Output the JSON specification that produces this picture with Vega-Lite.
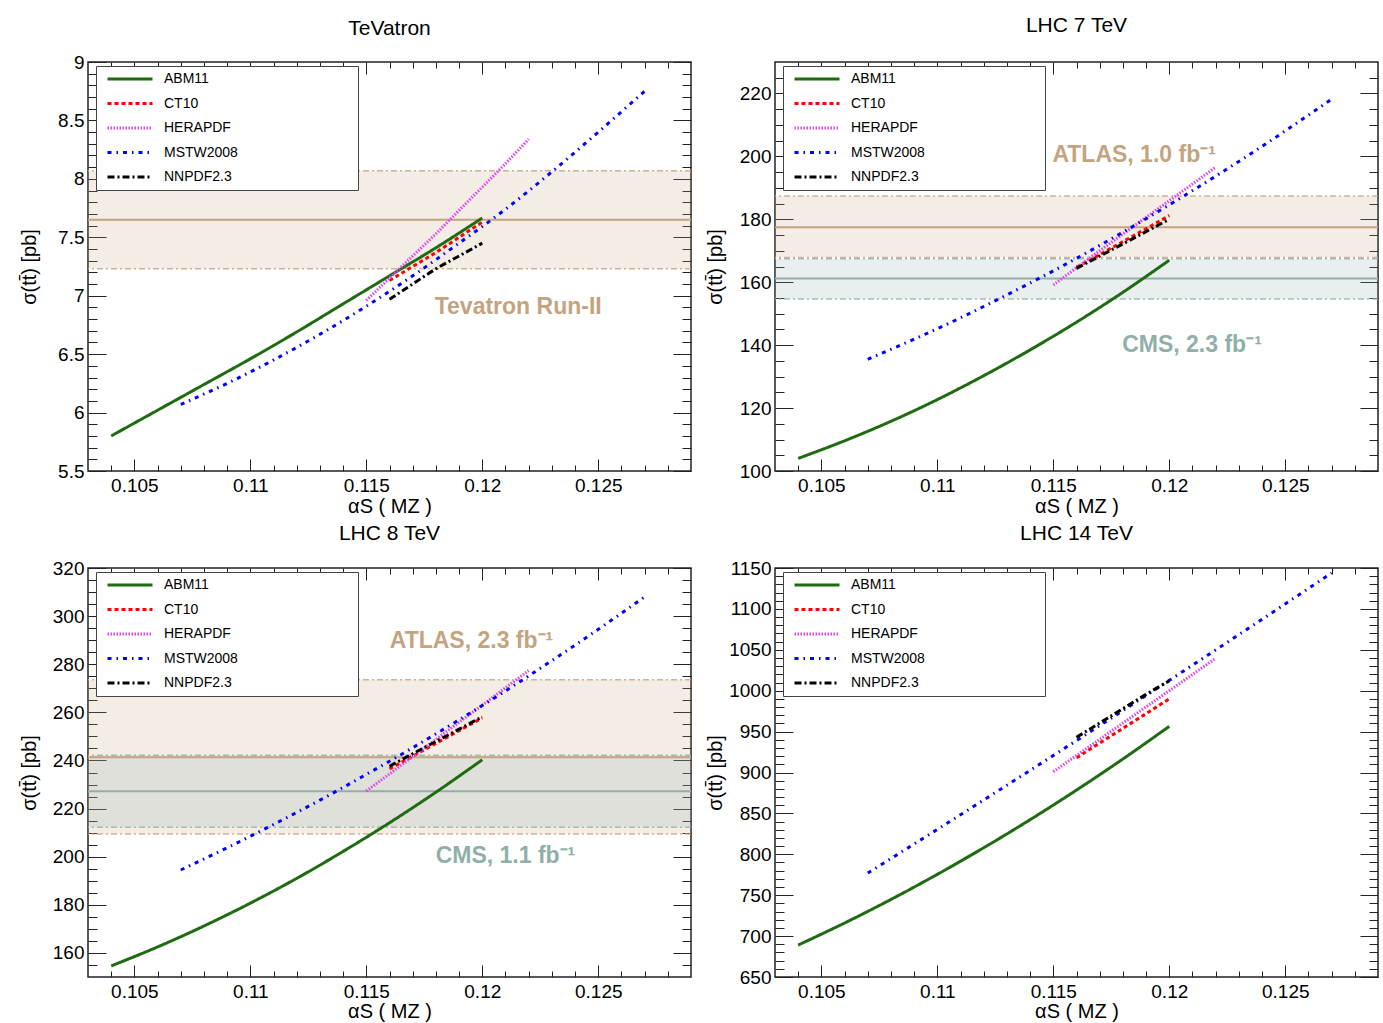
{
  "$schema": "https://vega.github.io/schema/vega-lite/v6.json",
  "background": "white",
  "padding": {"left": 18, "top": 14, "right": 0, "bottom": 0},
  "columns": 2,
  "spacing": {"row": 5, "column": 11},
  "datasets": {
    "lines": [
      {"panel":"tev","pdf":"ABM11","alphas":0.104,"sigma":5.80},{"panel":"tev","pdf":"ABM11","alphas":0.106,"sigma":6.02},{"panel":"tev","pdf":"ABM11","alphas":0.108,"sigma":6.24},{"panel":"tev","pdf":"ABM11","alphas":0.110,"sigma":6.46},{"panel":"tev","pdf":"ABM11","alphas":0.112,"sigma":6.69},{"panel":"tev","pdf":"ABM11","alphas":0.114,"sigma":6.93},{"panel":"tev","pdf":"ABM11","alphas":0.116,"sigma":7.17},{"panel":"tev","pdf":"ABM11","alphas":0.118,"sigma":7.41},{"panel":"tev","pdf":"ABM11","alphas":0.120,"sigma":7.665},
      {"panel":"tev","pdf":"CT10","alphas":0.116,"sigma":7.13},{"panel":"tev","pdf":"CT10","alphas":0.117,"sigma":7.25},{"panel":"tev","pdf":"CT10","alphas":0.118,"sigma":7.37},{"panel":"tev","pdf":"CT10","alphas":0.119,"sigma":7.50},{"panel":"tev","pdf":"CT10","alphas":0.120,"sigma":7.63},
      {"panel":"tev","pdf":"HERAPDF","alphas":0.115,"sigma":6.96},{"panel":"tev","pdf":"HERAPDF","alphas":0.116,"sigma":7.15},{"panel":"tev","pdf":"HERAPDF","alphas":0.117,"sigma":7.34},{"panel":"tev","pdf":"HERAPDF","alphas":0.118,"sigma":7.53},{"panel":"tev","pdf":"HERAPDF","alphas":0.119,"sigma":7.73},{"panel":"tev","pdf":"HERAPDF","alphas":0.120,"sigma":7.93},{"panel":"tev","pdf":"HERAPDF","alphas":0.121,"sigma":8.13},{"panel":"tev","pdf":"HERAPDF","alphas":0.122,"sigma":8.34},
      {"panel":"tev","pdf":"MSTW2008","alphas":0.107,"sigma":6.07},{"panel":"tev","pdf":"MSTW2008","alphas":0.109,"sigma":6.25},{"panel":"tev","pdf":"MSTW2008","alphas":0.111,"sigma":6.45},{"panel":"tev","pdf":"MSTW2008","alphas":0.113,"sigma":6.67},{"panel":"tev","pdf":"MSTW2008","alphas":0.115,"sigma":6.91},{"panel":"tev","pdf":"MSTW2008","alphas":0.117,"sigma":7.17},{"panel":"tev","pdf":"MSTW2008","alphas":0.119,"sigma":7.45},{"panel":"tev","pdf":"MSTW2008","alphas":0.121,"sigma":7.74},{"panel":"tev","pdf":"MSTW2008","alphas":0.123,"sigma":8.06},{"panel":"tev","pdf":"MSTW2008","alphas":0.125,"sigma":8.40},{"panel":"tev","pdf":"MSTW2008","alphas":0.127,"sigma":8.75},
      {"panel":"tev","pdf":"NNPDF2.3","alphas":0.116,"sigma":6.97},{"panel":"tev","pdf":"NNPDF2.3","alphas":0.117,"sigma":7.10},{"panel":"tev","pdf":"NNPDF2.3","alphas":0.118,"sigma":7.23},{"panel":"tev","pdf":"NNPDF2.3","alphas":0.119,"sigma":7.34},{"panel":"tev","pdf":"NNPDF2.3","alphas":0.120,"sigma":7.45},

      {"panel":"lhc7","pdf":"ABM11","alphas":0.104,"sigma":104.0},{"panel":"lhc7","pdf":"ABM11","alphas":0.106,"sigma":109.6},{"panel":"lhc7","pdf":"ABM11","alphas":0.108,"sigma":115.8},{"panel":"lhc7","pdf":"ABM11","alphas":0.110,"sigma":122.7},{"panel":"lhc7","pdf":"ABM11","alphas":0.112,"sigma":130.3},{"panel":"lhc7","pdf":"ABM11","alphas":0.114,"sigma":138.5},{"panel":"lhc7","pdf":"ABM11","alphas":0.116,"sigma":147.3},{"panel":"lhc7","pdf":"ABM11","alphas":0.118,"sigma":156.8},{"panel":"lhc7","pdf":"ABM11","alphas":0.120,"sigma":167.0},
      {"panel":"lhc7","pdf":"CT10","alphas":0.116,"sigma":164.8},{"panel":"lhc7","pdf":"CT10","alphas":0.117,"sigma":168.8},{"panel":"lhc7","pdf":"CT10","alphas":0.118,"sigma":172.9},{"panel":"lhc7","pdf":"CT10","alphas":0.119,"sigma":177.0},{"panel":"lhc7","pdf":"CT10","alphas":0.120,"sigma":181.2},
      {"panel":"lhc7","pdf":"HERAPDF","alphas":0.115,"sigma":159.1},{"panel":"lhc7","pdf":"HERAPDF","alphas":0.116,"sigma":164.6},{"panel":"lhc7","pdf":"HERAPDF","alphas":0.117,"sigma":170.0},{"panel":"lhc7","pdf":"HERAPDF","alphas":0.118,"sigma":175.3},{"panel":"lhc7","pdf":"HERAPDF","alphas":0.119,"sigma":180.6},{"panel":"lhc7","pdf":"HERAPDF","alphas":0.120,"sigma":185.9},{"panel":"lhc7","pdf":"HERAPDF","alphas":0.121,"sigma":191.2},{"panel":"lhc7","pdf":"HERAPDF","alphas":0.122,"sigma":196.6},
      {"panel":"lhc7","pdf":"MSTW2008","alphas":0.107,"sigma":135.5},{"panel":"lhc7","pdf":"MSTW2008","alphas":0.109,"sigma":141.9},{"panel":"lhc7","pdf":"MSTW2008","alphas":0.111,"sigma":148.7},{"panel":"lhc7","pdf":"MSTW2008","alphas":0.113,"sigma":156.0},{"panel":"lhc7","pdf":"MSTW2008","alphas":0.115,"sigma":163.6},{"panel":"lhc7","pdf":"MSTW2008","alphas":0.117,"sigma":171.7},{"panel":"lhc7","pdf":"MSTW2008","alphas":0.119,"sigma":180.2},{"panel":"lhc7","pdf":"MSTW2008","alphas":0.121,"sigma":189.1},{"panel":"lhc7","pdf":"MSTW2008","alphas":0.123,"sigma":198.4},{"panel":"lhc7","pdf":"MSTW2008","alphas":0.125,"sigma":208.1},{"panel":"lhc7","pdf":"MSTW2008","alphas":0.127,"sigma":218.2},
      {"panel":"lhc7","pdf":"NNPDF2.3","alphas":0.116,"sigma":164.4},{"panel":"lhc7","pdf":"NNPDF2.3","alphas":0.117,"sigma":168.3},{"panel":"lhc7","pdf":"NNPDF2.3","alphas":0.118,"sigma":172.2},{"panel":"lhc7","pdf":"NNPDF2.3","alphas":0.119,"sigma":176.1},{"panel":"lhc7","pdf":"NNPDF2.3","alphas":0.120,"sigma":180.0},

      {"panel":"lhc8","pdf":"ABM11","alphas":0.104,"sigma":154.6},{"panel":"lhc8","pdf":"ABM11","alphas":0.106,"sigma":162.5},{"panel":"lhc8","pdf":"ABM11","alphas":0.108,"sigma":171.2},{"panel":"lhc8","pdf":"ABM11","alphas":0.110,"sigma":180.7},{"panel":"lhc8","pdf":"ABM11","alphas":0.112,"sigma":191.0},{"panel":"lhc8","pdf":"ABM11","alphas":0.114,"sigma":202.2},{"panel":"lhc8","pdf":"ABM11","alphas":0.116,"sigma":214.1},{"panel":"lhc8","pdf":"ABM11","alphas":0.118,"sigma":226.8},{"panel":"lhc8","pdf":"ABM11","alphas":0.120,"sigma":240.3},
      {"panel":"lhc8","pdf":"CT10","alphas":0.116,"sigma":236.5},{"panel":"lhc8","pdf":"CT10","alphas":0.117,"sigma":241.8},{"panel":"lhc8","pdf":"CT10","alphas":0.118,"sigma":247.1},{"panel":"lhc8","pdf":"CT10","alphas":0.119,"sigma":252.4},{"panel":"lhc8","pdf":"CT10","alphas":0.120,"sigma":257.7},
      {"panel":"lhc8","pdf":"HERAPDF","alphas":0.115,"sigma":227.3},{"panel":"lhc8","pdf":"HERAPDF","alphas":0.116,"sigma":234.4},{"panel":"lhc8","pdf":"HERAPDF","alphas":0.117,"sigma":241.6},{"panel":"lhc8","pdf":"HERAPDF","alphas":0.118,"sigma":248.7},{"panel":"lhc8","pdf":"HERAPDF","alphas":0.119,"sigma":255.9},{"panel":"lhc8","pdf":"HERAPDF","alphas":0.120,"sigma":263.0},{"panel":"lhc8","pdf":"HERAPDF","alphas":0.121,"sigma":270.2},{"panel":"lhc8","pdf":"HERAPDF","alphas":0.122,"sigma":277.4},
      {"panel":"lhc8","pdf":"MSTW2008","alphas":0.107,"sigma":194.5},{"panel":"lhc8","pdf":"MSTW2008","alphas":0.109,"sigma":203.7},{"panel":"lhc8","pdf":"MSTW2008","alphas":0.111,"sigma":213.4},{"panel":"lhc8","pdf":"MSTW2008","alphas":0.113,"sigma":223.5},{"panel":"lhc8","pdf":"MSTW2008","alphas":0.115,"sigma":234.2},{"panel":"lhc8","pdf":"MSTW2008","alphas":0.117,"sigma":245.3},{"panel":"lhc8","pdf":"MSTW2008","alphas":0.119,"sigma":256.9},{"panel":"lhc8","pdf":"MSTW2008","alphas":0.121,"sigma":268.9},{"panel":"lhc8","pdf":"MSTW2008","alphas":0.123,"sigma":281.5},{"panel":"lhc8","pdf":"MSTW2008","alphas":0.125,"sigma":294.5},{"panel":"lhc8","pdf":"MSTW2008","alphas":0.127,"sigma":308.0},
      {"panel":"lhc8","pdf":"NNPDF2.3","alphas":0.116,"sigma":237.6},{"panel":"lhc8","pdf":"NNPDF2.3","alphas":0.117,"sigma":242.8},{"panel":"lhc8","pdf":"NNPDF2.3","alphas":0.118,"sigma":247.9},{"panel":"lhc8","pdf":"NNPDF2.3","alphas":0.119,"sigma":253.0},{"panel":"lhc8","pdf":"NNPDF2.3","alphas":0.120,"sigma":258.2},

      {"panel":"lhc14","pdf":"ABM11","alphas":0.104,"sigma":689.1},{"panel":"lhc14","pdf":"ABM11","alphas":0.106,"sigma":716.0},{"panel":"lhc14","pdf":"ABM11","alphas":0.108,"sigma":744.8},{"panel":"lhc14","pdf":"ABM11","alphas":0.110,"sigma":775.5},{"panel":"lhc14","pdf":"ABM11","alphas":0.112,"sigma":808.0},{"panel":"lhc14","pdf":"ABM11","alphas":0.114,"sigma":842.3},{"panel":"lhc14","pdf":"ABM11","alphas":0.116,"sigma":878.5},{"panel":"lhc14","pdf":"ABM11","alphas":0.118,"sigma":916.5},{"panel":"lhc14","pdf":"ABM11","alphas":0.120,"sigma":956.4},
      {"panel":"lhc14","pdf":"CT10","alphas":0.116,"sigma":918},{"panel":"lhc14","pdf":"CT10","alphas":0.117,"sigma":936},{"panel":"lhc14","pdf":"CT10","alphas":0.118,"sigma":954},{"panel":"lhc14","pdf":"CT10","alphas":0.119,"sigma":972},{"panel":"lhc14","pdf":"CT10","alphas":0.120,"sigma":990},
      {"panel":"lhc14","pdf":"HERAPDF","alphas":0.115,"sigma":901.0},{"panel":"lhc14","pdf":"HERAPDF","alphas":0.116,"sigma":920.8},{"panel":"lhc14","pdf":"HERAPDF","alphas":0.117,"sigma":940.6},{"panel":"lhc14","pdf":"HERAPDF","alphas":0.118,"sigma":960.4},{"panel":"lhc14","pdf":"HERAPDF","alphas":0.119,"sigma":980.2},{"panel":"lhc14","pdf":"HERAPDF","alphas":0.120,"sigma":1000.0},{"panel":"lhc14","pdf":"HERAPDF","alphas":0.121,"sigma":1019.8},{"panel":"lhc14","pdf":"HERAPDF","alphas":0.122,"sigma":1039.6},
      {"panel":"lhc14","pdf":"MSTW2008","alphas":0.107,"sigma":777.1},{"panel":"lhc14","pdf":"MSTW2008","alphas":0.109,"sigma":812.6},{"panel":"lhc14","pdf":"MSTW2008","alphas":0.111,"sigma":848.4},{"panel":"lhc14","pdf":"MSTW2008","alphas":0.113,"sigma":884.5},{"panel":"lhc14","pdf":"MSTW2008","alphas":0.115,"sigma":920.8},{"panel":"lhc14","pdf":"MSTW2008","alphas":0.117,"sigma":957.3},{"panel":"lhc14","pdf":"MSTW2008","alphas":0.119,"sigma":994.1},{"panel":"lhc14","pdf":"MSTW2008","alphas":0.121,"sigma":1031.2},{"panel":"lhc14","pdf":"MSTW2008","alphas":0.123,"sigma":1068.5},{"panel":"lhc14","pdf":"MSTW2008","alphas":0.125,"sigma":1106.1},{"panel":"lhc14","pdf":"MSTW2008","alphas":0.127,"sigma":1143.9},
      {"panel":"lhc14","pdf":"NNPDF2.3","alphas":0.116,"sigma":943},{"panel":"lhc14","pdf":"NNPDF2.3","alphas":0.117,"sigma":960.5},{"panel":"lhc14","pdf":"NNPDF2.3","alphas":0.118,"sigma":978},{"panel":"lhc14","pdf":"NNPDF2.3","alphas":0.119,"sigma":995.5},{"panel":"lhc14","pdf":"NNPDF2.3","alphas":0.120,"sigma":1012}
    ],
    "bands": [
      {"panel":"tev","exp":"Tevatron","lo":7.23,"mid":7.65,"hi":8.07},
      {"panel":"lhc7","exp":"ATLAS","lo":167.9,"mid":177.5,"hi":187.4},
      {"panel":"lhc7","exp":"CMS","lo":154.7,"mid":161.2,"hi":167.5},
      {"panel":"lhc8","exp":"ATLAS","lo":209.4,"mid":241.3,"hi":273.6},
      {"panel":"lhc8","exp":"CMS","lo":212.2,"mid":227.2,"hi":242.2}
    ],
    "notes": [
      {"panel":"tev","exp":"Tevatron","text":"Tevatron Run-II","alphas":0.11795,"sigma":6.90},
      {"panel":"lhc7","exp":"ATLAS","text":"ATLAS, 1.0 fb⁻¹","alphas":0.11496,"sigma":200.3},
      {"panel":"lhc7","exp":"CMS","text":"CMS, 2.3 fb⁻¹","alphas":0.11797,"sigma":140.0},
      {"panel":"lhc8","exp":"ATLAS","text":"ATLAS, 2.3 fb⁻¹","alphas":0.11601,"sigma":289.8},
      {"panel":"lhc8","exp":"CMS","text":"CMS, 1.1 fb⁻¹","alphas":0.11799,"sigma":200.5}
    ]
  },
  "resolve": {"legend": {"color": "independent", "strokeDash": "independent"}},
  "concat": [
    {
      "width": 603, "height": 409,
      "title": {"text": "TeVatron", "offset": 14},
      "resolve": {"axis": {"x": "independent", "y": "independent"}},
      "layer": [
        {"data": {"name": "bands"}, "transform": [{"filter": "datum.panel === 'tev'"}],
         "mark": {"type": "rect", "opacity": 0.2},
         "encoding": {"y": {"field": "lo", "type": "quantitative", "scale": {"domain": [5.5, 9], "nice": false, "zero": false}, "axis": null}, "y2": {"field": "hi"},
           "fill": {"field": "exp", "type": "nominal", "scale": {"domain": ["Tevatron","ATLAS","CMS"], "range": ["#c4a37f","#c4a37f","#8fb0a8"]}, "legend": null}}},
        {"data": {"name": "bands"}, "transform": [{"filter": "datum.panel === 'tev'"}],
         "mark": {"type": "rule", "strokeWidth": 1.5, "strokeDash": [6,3,2,3], "opacity": 0.8},
         "encoding": {"y": {"field": "lo", "type": "quantitative", "scale": {"domain": [5.5, 9], "nice": false, "zero": false}, "axis": null},
           "stroke": {"field": "exp", "type": "nominal", "scale": {"domain": ["Tevatron","ATLAS","CMS"], "range": ["#c4a37f","#c4a37f","#8fb0a8"]}, "legend": null}}},
        {"data": {"name": "bands"}, "transform": [{"filter": "datum.panel === 'tev'"}],
         "mark": {"type": "rule", "strokeWidth": 1.5, "strokeDash": [6,3,2,3], "opacity": 0.8},
         "encoding": {"y": {"field": "hi", "type": "quantitative", "scale": {"domain": [5.5, 9], "nice": false, "zero": false}, "axis": null},
           "stroke": {"field": "exp", "type": "nominal", "scale": {"domain": ["Tevatron","ATLAS","CMS"], "range": ["#c4a37f","#c4a37f","#8fb0a8"]}, "legend": null}}},
        {"data": {"name": "bands"}, "transform": [{"filter": "datum.panel === 'tev'"}],
         "mark": {"type": "rule", "strokeWidth": 2},
         "encoding": {"y": {"field": "mid", "type": "quantitative", "scale": {"domain": [5.5, 9], "nice": false, "zero": false}, "axis": null},
           "stroke": {"field": "exp", "type": "nominal", "scale": {"domain": ["Tevatron","ATLAS","CMS"], "range": ["#c4a37f","#c4a37f","#8fb0a8"]}, "legend": null}}},
        {"data": {"name": "notes"}, "transform": [{"filter": "datum.panel === 'tev'"}],
         "mark": {"type": "text", "align": "left", "baseline": "middle", "fontSize": 23, "fontWeight": "bold", "font": "Liberation Sans"},
         "encoding": {"x": {"field": "alphas", "type": "quantitative", "scale": {"domain": [0.103, 0.129], "nice": false, "zero": false}, "axis": null},
           "y": {"field": "sigma", "type": "quantitative", "scale": {"domain": [5.5, 9], "nice": false, "zero": false}, "axis": null},
           "text": {"field": "text"},
           "fill": {"field": "exp", "type": "nominal", "scale": {"domain": ["Tevatron","ATLAS","CMS"], "range": ["#c4a37f","#c4a37f","#8fb0a8"]}, "legend": null}}},
        {"data": {"name": "lines"}, "transform": [{"filter": "datum.panel === 'tev'"}],
         "mark": {"type": "line", "strokeWidth": 3, "interpolate": "monotone", "clip": true},
         "encoding": {
           "x": {"field": "alphas", "type": "quantitative", "scale": {"domain": [0.103, 0.129], "nice": false, "zero": false},
             "axis": {"orient": "bottom", "values": [0.105,0.11,0.115,0.12,0.125], "format": "~r", "tickSize": -12, "labelPadding": 17, "title": "αS ( MZ )", "titleX": 301.5, "titleY": 35, "titleAlign": "center", "titleBaseline": "middle"}},
           "y": {"field": "sigma", "type": "quantitative", "scale": {"domain": [5.5, 9], "nice": false, "zero": false},
             "axis": {"orient": "left", "values": [5.5,6,6.5,7,7.5,8,8.5,9], "format": "~r", "tickSize": -18, "labelPadding": 22, "title": "σ(tt̄) [pb]", "titleX": -59, "titleY": 204.5, "titleAngle": -90, "titleAlign": "center", "titleBaseline": "middle"}},
           "color": {"field": "pdf", "type": "nominal", "scale": {"domain": ["ABM11","CT10","HERAPDF","MSTW2008","NNPDF2.3"], "range": ["#1f6b12","#ff0000","#dd44ee","#0000ff","#000000"]}, "legend": {"title": null, "orient": "none", "legendX": 8, "legendY": 4, "labelExpr": "datum.label + '\u00a0\u00a0\u00a0\u00a0\u00a0\u00a0\u00a0\u00a0\u00a0\u00a0\u00a0\u00a0\u00a0\u00a0\u00a0\u00a0\u00a0\u00a0\u00a0\u00a0\u00a0\u00a0\u00a0\u00a0\u00a0\u00a0\u00a0\u00a0\u00a0\u00a0\u200b'"}},
           "strokeDash": {"field": "pdf", "type": "nominal", "scale": {"domain": ["ABM11","CT10","HERAPDF","MSTW2008","NNPDF2.3"], "range": [[1,0],[4,3],[1.5,1.5],[4,5,1.5,5],[7,3,2,3]]}, "legend": {"title": null, "orient": "none", "legendX": 8, "legendY": 4, "labelExpr": "datum.label + '\u00a0\u00a0\u00a0\u00a0\u00a0\u00a0\u00a0\u00a0\u00a0\u00a0\u00a0\u00a0\u00a0\u00a0\u00a0\u00a0\u00a0\u00a0\u00a0\u00a0\u00a0\u00a0\u00a0\u00a0\u00a0\u00a0\u00a0\u00a0\u00a0\u00a0\u200b'"}}
         }},
        {"data": {"name": "lines"}, "transform": [{"filter": "datum.panel === 'tev'"}],
         "mark": {"type": "point", "opacity": 0},
         "encoding": {
           "x": {"field": "alphas", "type": "quantitative", "scale": {"domain": [0.103, 0.129], "nice": false, "zero": false},
             "axis": {"orient": "bottom", "values": [0.104,0.106,0.107,0.108,0.109,0.111,0.112,0.113,0.114,0.116,0.117,0.118,0.119,0.121,0.122,0.123,0.124,0.126,0.127,0.128], "tickSize": -6, "labels": false, "title": null}},
           "y": {"field": "sigma", "type": "quantitative", "scale": {"domain": [5.5, 9], "nice": false, "zero": false},
             "axis": {"orient": "left", "values": [5.6,5.7,5.8,5.9,6.1,6.2,6.3,6.4,6.6,6.7,6.8,6.9,7.1,7.2,7.3,7.4,7.6,7.7,7.8,7.9,8.1,8.2,8.3,8.4,8.6,8.7,8.8,8.9], "tickSize": -9, "labels": false, "title": null}}
         }},
        {"data": {"name": "lines"}, "transform": [{"filter": "datum.panel === 'tev'"}],
         "mark": {"type": "point", "opacity": 0},
         "encoding": {
           "x": {"field": "alphas", "type": "quantitative", "scale": {"domain": [0.103, 0.129], "nice": false, "zero": false},
             "axis": {"orient": "top", "values": [0.105,0.11,0.115,0.12,0.125], "tickSize": -12, "labels": false, "title": null}},
           "y": {"field": "sigma", "type": "quantitative", "scale": {"domain": [5.5, 9], "nice": false, "zero": false},
             "axis": {"orient": "right", "values": [5.5,6,6.5,7,7.5,8,8.5,9], "tickSize": -18, "labels": false, "title": null}}
         }},
        {"data": {"name": "lines"}, "transform": [{"filter": "datum.panel === 'tev'"}],
         "mark": {"type": "point", "opacity": 0},
         "encoding": {
           "x": {"field": "alphas", "type": "quantitative", "scale": {"domain": [0.103, 0.129], "nice": false, "zero": false},
             "axis": {"orient": "top", "values": [0.104,0.106,0.107,0.108,0.109,0.111,0.112,0.113,0.114,0.116,0.117,0.118,0.119,0.121,0.122,0.123,0.124,0.126,0.127,0.128], "tickSize": -6, "labels": false, "title": null}},
           "y": {"field": "sigma", "type": "quantitative", "scale": {"domain": [5.5, 9], "nice": false, "zero": false},
             "axis": {"orient": "right", "values": [5.6,5.7,5.8,5.9,6.1,6.2,6.3,6.4,6.6,6.7,6.8,6.9,7.1,7.2,7.3,7.4,7.6,7.7,7.8,7.9,8.1,8.2,8.3,8.4,8.6,8.7,8.8,8.9], "tickSize": -9, "labels": false, "title": null}}
         }}
      ]
    },
    {
      "width": 603, "height": 409,
      "title": {"text": "LHC 7 TeV", "offset": 25.5},
      "resolve": {"axis": {"x": "independent", "y": "independent"}},
      "layer": [
        {"data": {"name": "bands"}, "transform": [{"filter": "datum.panel === 'lhc7'"}],
         "mark": {"type": "rect", "opacity": 0.2},
         "encoding": {"y": {"field": "lo", "type": "quantitative", "scale": {"domain": [100, 230], "nice": false, "zero": false}, "axis": null}, "y2": {"field": "hi"},
           "fill": {"field": "exp", "type": "nominal", "scale": {"domain": ["Tevatron","ATLAS","CMS"], "range": ["#c4a37f","#c4a37f","#8fb0a8"]}, "legend": null}}},
        {"data": {"name": "bands"}, "transform": [{"filter": "datum.panel === 'lhc7'"}],
         "mark": {"type": "rule", "strokeWidth": 1.5, "strokeDash": [6,3,2,3], "opacity": 0.8},
         "encoding": {"y": {"field": "lo", "type": "quantitative", "scale": {"domain": [100, 230], "nice": false, "zero": false}, "axis": null},
           "stroke": {"field": "exp", "type": "nominal", "scale": {"domain": ["Tevatron","ATLAS","CMS"], "range": ["#c4a37f","#c4a37f","#8fb0a8"]}, "legend": null}}},
        {"data": {"name": "bands"}, "transform": [{"filter": "datum.panel === 'lhc7'"}],
         "mark": {"type": "rule", "strokeWidth": 1.5, "strokeDash": [6,3,2,3], "opacity": 0.8},
         "encoding": {"y": {"field": "hi", "type": "quantitative", "scale": {"domain": [100, 230], "nice": false, "zero": false}, "axis": null},
           "stroke": {"field": "exp", "type": "nominal", "scale": {"domain": ["Tevatron","ATLAS","CMS"], "range": ["#c4a37f","#c4a37f","#8fb0a8"]}, "legend": null}}},
        {"data": {"name": "bands"}, "transform": [{"filter": "datum.panel === 'lhc7'"}],
         "mark": {"type": "rule", "strokeWidth": 2},
         "encoding": {"y": {"field": "mid", "type": "quantitative", "scale": {"domain": [100, 230], "nice": false, "zero": false}, "axis": null},
           "stroke": {"field": "exp", "type": "nominal", "scale": {"domain": ["Tevatron","ATLAS","CMS"], "range": ["#c4a37f","#c4a37f","#8fb0a8"]}, "legend": null}}},
        {"data": {"name": "notes"}, "transform": [{"filter": "datum.panel === 'lhc7'"}],
         "mark": {"type": "text", "align": "left", "baseline": "middle", "fontSize": 23, "fontWeight": "bold", "font": "Liberation Sans"},
         "encoding": {"x": {"field": "alphas", "type": "quantitative", "scale": {"domain": [0.103, 0.129], "nice": false, "zero": false}, "axis": null},
           "y": {"field": "sigma", "type": "quantitative", "scale": {"domain": [100, 230], "nice": false, "zero": false}, "axis": null},
           "text": {"field": "text"},
           "fill": {"field": "exp", "type": "nominal", "scale": {"domain": ["Tevatron","ATLAS","CMS"], "range": ["#c4a37f","#c4a37f","#8fb0a8"]}, "legend": null}}},
        {"data": {"name": "lines"}, "transform": [{"filter": "datum.panel === 'lhc7'"}],
         "mark": {"type": "line", "strokeWidth": 3, "interpolate": "monotone", "clip": true},
         "encoding": {
           "x": {"field": "alphas", "type": "quantitative", "scale": {"domain": [0.103, 0.129], "nice": false, "zero": false},
             "axis": {"orient": "bottom", "values": [0.105,0.11,0.115,0.12,0.125], "format": "~r", "tickSize": -12, "labelPadding": 17, "title": "αS ( MZ )", "titleX": 301.5, "titleY": 35, "titleAlign": "center", "titleBaseline": "middle"}},
           "y": {"field": "sigma", "type": "quantitative", "scale": {"domain": [100, 230], "nice": false, "zero": false},
             "axis": {"orient": "left", "values": [100,120,140,160,180,200,220], "format": "~r", "tickSize": -18, "labelPadding": 22, "title": "σ(tt̄) [pb]", "titleX": -60, "titleY": 204.5, "titleAngle": -90, "titleAlign": "center", "titleBaseline": "middle"}},
           "color": {"field": "pdf", "type": "nominal", "scale": {"domain": ["ABM11","CT10","HERAPDF","MSTW2008","NNPDF2.3"], "range": ["#1f6b12","#ff0000","#dd44ee","#0000ff","#000000"]}, "legend": {"title": null, "orient": "none", "legendX": 8, "legendY": 4, "labelExpr": "datum.label + '\u00a0\u00a0\u00a0\u00a0\u00a0\u00a0\u00a0\u00a0\u00a0\u00a0\u00a0\u00a0\u00a0\u00a0\u00a0\u00a0\u00a0\u00a0\u00a0\u00a0\u00a0\u00a0\u00a0\u00a0\u00a0\u00a0\u00a0\u00a0\u00a0\u00a0\u200b'"}},
           "strokeDash": {"field": "pdf", "type": "nominal", "scale": {"domain": ["ABM11","CT10","HERAPDF","MSTW2008","NNPDF2.3"], "range": [[1,0],[4,3],[1.5,1.5],[4,5,1.5,5],[7,3,2,3]]}, "legend": {"title": null, "orient": "none", "legendX": 8, "legendY": 4, "labelExpr": "datum.label + '\u00a0\u00a0\u00a0\u00a0\u00a0\u00a0\u00a0\u00a0\u00a0\u00a0\u00a0\u00a0\u00a0\u00a0\u00a0\u00a0\u00a0\u00a0\u00a0\u00a0\u00a0\u00a0\u00a0\u00a0\u00a0\u00a0\u00a0\u00a0\u00a0\u00a0\u200b'"}}
         }},
        {"data": {"name": "lines"}, "transform": [{"filter": "datum.panel === 'lhc7'"}],
         "mark": {"type": "point", "opacity": 0},
         "encoding": {
           "x": {"field": "alphas", "type": "quantitative", "scale": {"domain": [0.103, 0.129], "nice": false, "zero": false},
             "axis": {"orient": "bottom", "values": [0.104,0.106,0.107,0.108,0.109,0.111,0.112,0.113,0.114,0.116,0.117,0.118,0.119,0.121,0.122,0.123,0.124,0.126,0.127,0.128], "tickSize": -6, "labels": false, "title": null}},
           "y": {"field": "sigma", "type": "quantitative", "scale": {"domain": [100, 230], "nice": false, "zero": false},
             "axis": {"orient": "left", "values": [105,110,115,125,130,135,145,150,155,165,170,175,185,190,195,205,210,215,225], "tickSize": -9, "labels": false, "title": null}}
         }},
        {"data": {"name": "lines"}, "transform": [{"filter": "datum.panel === 'lhc7'"}],
         "mark": {"type": "point", "opacity": 0},
         "encoding": {
           "x": {"field": "alphas", "type": "quantitative", "scale": {"domain": [0.103, 0.129], "nice": false, "zero": false},
             "axis": {"orient": "top", "values": [0.105,0.11,0.115,0.12,0.125], "tickSize": -12, "labels": false, "title": null}},
           "y": {"field": "sigma", "type": "quantitative", "scale": {"domain": [100, 230], "nice": false, "zero": false},
             "axis": {"orient": "right", "values": [100,120,140,160,180,200,220], "tickSize": -18, "labels": false, "title": null}}
         }},
        {"data": {"name": "lines"}, "transform": [{"filter": "datum.panel === 'lhc7'"}],
         "mark": {"type": "point", "opacity": 0},
         "encoding": {
           "x": {"field": "alphas", "type": "quantitative", "scale": {"domain": [0.103, 0.129], "nice": false, "zero": false},
             "axis": {"orient": "top", "values": [0.104,0.106,0.107,0.108,0.109,0.111,0.112,0.113,0.114,0.116,0.117,0.118,0.119,0.121,0.122,0.123,0.124,0.126,0.127,0.128], "tickSize": -6, "labels": false, "title": null}},
           "y": {"field": "sigma", "type": "quantitative", "scale": {"domain": [100, 230], "nice": false, "zero": false},
             "axis": {"orient": "right", "values": [105,110,115,125,130,135,145,150,155,165,170,175,185,190,195,205,210,215,225], "tickSize": -9, "labels": false, "title": null}}
         }}
      ]
    },
    {
      "width": 603, "height": 409,
      "title": {"text": "LHC 8 TeV", "offset": 15},
      "resolve": {"axis": {"x": "independent", "y": "independent"}},
      "layer": [
        {"data": {"name": "bands"}, "transform": [{"filter": "datum.panel === 'lhc8'"}],
         "mark": {"type": "rect", "opacity": 0.2},
         "encoding": {"y": {"field": "lo", "type": "quantitative", "scale": {"domain": [150, 320], "nice": false, "zero": false}, "axis": null}, "y2": {"field": "hi"},
           "fill": {"field": "exp", "type": "nominal", "scale": {"domain": ["Tevatron","ATLAS","CMS"], "range": ["#c4a37f","#c4a37f","#8fb0a8"]}, "legend": null}}},
        {"data": {"name": "bands"}, "transform": [{"filter": "datum.panel === 'lhc8'"}],
         "mark": {"type": "rule", "strokeWidth": 1.5, "strokeDash": [6,3,2,3], "opacity": 0.8},
         "encoding": {"y": {"field": "lo", "type": "quantitative", "scale": {"domain": [150, 320], "nice": false, "zero": false}, "axis": null},
           "stroke": {"field": "exp", "type": "nominal", "scale": {"domain": ["Tevatron","ATLAS","CMS"], "range": ["#c4a37f","#c4a37f","#8fb0a8"]}, "legend": null}}},
        {"data": {"name": "bands"}, "transform": [{"filter": "datum.panel === 'lhc8'"}],
         "mark": {"type": "rule", "strokeWidth": 1.5, "strokeDash": [6,3,2,3], "opacity": 0.8},
         "encoding": {"y": {"field": "hi", "type": "quantitative", "scale": {"domain": [150, 320], "nice": false, "zero": false}, "axis": null},
           "stroke": {"field": "exp", "type": "nominal", "scale": {"domain": ["Tevatron","ATLAS","CMS"], "range": ["#c4a37f","#c4a37f","#8fb0a8"]}, "legend": null}}},
        {"data": {"name": "bands"}, "transform": [{"filter": "datum.panel === 'lhc8'"}],
         "mark": {"type": "rule", "strokeWidth": 2},
         "encoding": {"y": {"field": "mid", "type": "quantitative", "scale": {"domain": [150, 320], "nice": false, "zero": false}, "axis": null},
           "stroke": {"field": "exp", "type": "nominal", "scale": {"domain": ["Tevatron","ATLAS","CMS"], "range": ["#c4a37f","#c4a37f","#8fb0a8"]}, "legend": null}}},
        {"data": {"name": "notes"}, "transform": [{"filter": "datum.panel === 'lhc8'"}],
         "mark": {"type": "text", "align": "left", "baseline": "middle", "fontSize": 23, "fontWeight": "bold", "font": "Liberation Sans"},
         "encoding": {"x": {"field": "alphas", "type": "quantitative", "scale": {"domain": [0.103, 0.129], "nice": false, "zero": false}, "axis": null},
           "y": {"field": "sigma", "type": "quantitative", "scale": {"domain": [150, 320], "nice": false, "zero": false}, "axis": null},
           "text": {"field": "text"},
           "fill": {"field": "exp", "type": "nominal", "scale": {"domain": ["Tevatron","ATLAS","CMS"], "range": ["#c4a37f","#c4a37f","#8fb0a8"]}, "legend": null}}},
        {"data": {"name": "lines"}, "transform": [{"filter": "datum.panel === 'lhc8'"}],
         "mark": {"type": "line", "strokeWidth": 3, "interpolate": "monotone", "clip": true},
         "encoding": {
           "x": {"field": "alphas", "type": "quantitative", "scale": {"domain": [0.103, 0.129], "nice": false, "zero": false},
             "axis": {"orient": "bottom", "values": [0.105,0.11,0.115,0.12,0.125], "format": "~r", "tickSize": -12, "labelPadding": 17, "title": "αS ( MZ )", "titleX": 301.5, "titleY": 34, "titleAlign": "center", "titleBaseline": "middle"}},
           "y": {"field": "sigma", "type": "quantitative", "scale": {"domain": [150, 320], "nice": false, "zero": false},
             "axis": {"orient": "left", "values": [160,180,200,220,240,260,280,300,320], "format": "~r", "tickSize": -18, "labelPadding": 22, "title": "σ(tt̄) [pb]", "titleX": -59, "titleY": 204.5, "titleAngle": -90, "titleAlign": "center", "titleBaseline": "middle"}},
           "color": {"field": "pdf", "type": "nominal", "scale": {"domain": ["ABM11","CT10","HERAPDF","MSTW2008","NNPDF2.3"], "range": ["#1f6b12","#ff0000","#dd44ee","#0000ff","#000000"]}, "legend": {"title": null, "orient": "none", "legendX": 8, "legendY": 4, "labelExpr": "datum.label + '\u00a0\u00a0\u00a0\u00a0\u00a0\u00a0\u00a0\u00a0\u00a0\u00a0\u00a0\u00a0\u00a0\u00a0\u00a0\u00a0\u00a0\u00a0\u00a0\u00a0\u00a0\u00a0\u00a0\u00a0\u00a0\u00a0\u00a0\u00a0\u00a0\u00a0\u200b'"}},
           "strokeDash": {"field": "pdf", "type": "nominal", "scale": {"domain": ["ABM11","CT10","HERAPDF","MSTW2008","NNPDF2.3"], "range": [[1,0],[4,3],[1.5,1.5],[4,5,1.5,5],[7,3,2,3]]}, "legend": {"title": null, "orient": "none", "legendX": 8, "legendY": 4, "labelExpr": "datum.label + '\u00a0\u00a0\u00a0\u00a0\u00a0\u00a0\u00a0\u00a0\u00a0\u00a0\u00a0\u00a0\u00a0\u00a0\u00a0\u00a0\u00a0\u00a0\u00a0\u00a0\u00a0\u00a0\u00a0\u00a0\u00a0\u00a0\u00a0\u00a0\u00a0\u00a0\u200b'"}}
         }},
        {"data": {"name": "lines"}, "transform": [{"filter": "datum.panel === 'lhc8'"}],
         "mark": {"type": "point", "opacity": 0},
         "encoding": {
           "x": {"field": "alphas", "type": "quantitative", "scale": {"domain": [0.103, 0.129], "nice": false, "zero": false},
             "axis": {"orient": "bottom", "values": [0.104,0.106,0.107,0.108,0.109,0.111,0.112,0.113,0.114,0.116,0.117,0.118,0.119,0.121,0.122,0.123,0.124,0.126,0.127,0.128], "tickSize": -6, "labels": false, "title": null}},
           "y": {"field": "sigma", "type": "quantitative", "scale": {"domain": [150, 320], "nice": false, "zero": false},
             "axis": {"orient": "left", "values": [155,165,170,175,185,190,195,205,210,215,225,230,235,245,250,255,265,270,275,285,290,295,305,310,315], "tickSize": -9, "labels": false, "title": null}}
         }},
        {"data": {"name": "lines"}, "transform": [{"filter": "datum.panel === 'lhc8'"}],
         "mark": {"type": "point", "opacity": 0},
         "encoding": {
           "x": {"field": "alphas", "type": "quantitative", "scale": {"domain": [0.103, 0.129], "nice": false, "zero": false},
             "axis": {"orient": "top", "values": [0.105,0.11,0.115,0.12,0.125], "tickSize": -12, "labels": false, "title": null}},
           "y": {"field": "sigma", "type": "quantitative", "scale": {"domain": [150, 320], "nice": false, "zero": false},
             "axis": {"orient": "right", "values": [160,180,200,220,240,260,280,300,320], "tickSize": -18, "labels": false, "title": null}}
         }},
        {"data": {"name": "lines"}, "transform": [{"filter": "datum.panel === 'lhc8'"}],
         "mark": {"type": "point", "opacity": 0},
         "encoding": {
           "x": {"field": "alphas", "type": "quantitative", "scale": {"domain": [0.103, 0.129], "nice": false, "zero": false},
             "axis": {"orient": "top", "values": [0.104,0.106,0.107,0.108,0.109,0.111,0.112,0.113,0.114,0.116,0.117,0.118,0.119,0.121,0.122,0.123,0.124,0.126,0.127,0.128], "tickSize": -6, "labels": false, "title": null}},
           "y": {"field": "sigma", "type": "quantitative", "scale": {"domain": [150, 320], "nice": false, "zero": false},
             "axis": {"orient": "right", "values": [155,165,170,175,185,190,195,205,210,215,225,230,235,245,250,255,265,270,275,285,290,295,305,310,315], "tickSize": -9, "labels": false, "title": null}}
         }}
      ]
    },
    {
      "width": 603, "height": 409,
      "title": {"text": "LHC 14 TeV", "offset": 15},
      "resolve": {"axis": {"x": "independent", "y": "independent"}},
      "layer": [
        {"data": {"name": "lines"}, "transform": [{"filter": "datum.panel === 'lhc14'"}],
         "mark": {"type": "line", "strokeWidth": 3, "interpolate": "monotone", "clip": true},
         "encoding": {
           "x": {"field": "alphas", "type": "quantitative", "scale": {"domain": [0.103, 0.129], "nice": false, "zero": false},
             "axis": {"orient": "bottom", "values": [0.105,0.11,0.115,0.12,0.125], "format": "~r", "tickSize": -12, "labelPadding": 17, "title": "αS ( MZ )", "titleX": 301.5, "titleY": 34, "titleAlign": "center", "titleBaseline": "middle"}},
           "y": {"field": "sigma", "type": "quantitative", "scale": {"domain": [650, 1150], "nice": false, "zero": false},
             "axis": {"orient": "left", "values": [650,700,750,800,850,900,950,1000,1050,1100,1150], "format": "~r", "tickSize": -18, "labelPadding": 22, "title": "σ(tt̄) [pb]", "titleX": -60, "titleY": 204.5, "titleAngle": -90, "titleAlign": "center", "titleBaseline": "middle"}},
           "color": {"field": "pdf", "type": "nominal", "scale": {"domain": ["ABM11","CT10","HERAPDF","MSTW2008","NNPDF2.3"], "range": ["#1f6b12","#ff0000","#dd44ee","#0000ff","#000000"]}, "legend": {"title": null, "orient": "none", "legendX": 8, "legendY": 4, "labelExpr": "datum.label + '\u00a0\u00a0\u00a0\u00a0\u00a0\u00a0\u00a0\u00a0\u00a0\u00a0\u00a0\u00a0\u00a0\u00a0\u00a0\u00a0\u00a0\u00a0\u00a0\u00a0\u00a0\u00a0\u00a0\u00a0\u00a0\u00a0\u00a0\u00a0\u00a0\u00a0\u200b'"}},
           "strokeDash": {"field": "pdf", "type": "nominal", "scale": {"domain": ["ABM11","CT10","HERAPDF","MSTW2008","NNPDF2.3"], "range": [[1,0],[4,3],[1.5,1.5],[4,5,1.5,5],[7,3,2,3]]}, "legend": {"title": null, "orient": "none", "legendX": 8, "legendY": 4, "labelExpr": "datum.label + '\u00a0\u00a0\u00a0\u00a0\u00a0\u00a0\u00a0\u00a0\u00a0\u00a0\u00a0\u00a0\u00a0\u00a0\u00a0\u00a0\u00a0\u00a0\u00a0\u00a0\u00a0\u00a0\u00a0\u00a0\u00a0\u00a0\u00a0\u00a0\u00a0\u00a0\u200b'"}}
         }},
        {"data": {"name": "lines"}, "transform": [{"filter": "datum.panel === 'lhc14'"}],
         "mark": {"type": "point", "opacity": 0},
         "encoding": {
           "x": {"field": "alphas", "type": "quantitative", "scale": {"domain": [0.103, 0.129], "nice": false, "zero": false},
             "axis": {"orient": "bottom", "values": [0.104,0.106,0.107,0.108,0.109,0.111,0.112,0.113,0.114,0.116,0.117,0.118,0.119,0.121,0.122,0.123,0.124,0.126,0.127,0.128], "tickSize": -6, "labels": false, "title": null}},
           "y": {"field": "sigma", "type": "quantitative", "scale": {"domain": [650, 1150], "nice": false, "zero": false},
             "axis": {"orient": "left", "values": [660,670,680,690,710,720,730,740,760,770,780,790,810,820,830,840,860,870,880,890,910,920,930,940,960,970,980,990,1010,1020,1030,1040,1060,1070,1080,1090,1110,1120,1130,1140], "tickSize": -9, "labels": false, "title": null}}
         }},
        {"data": {"name": "lines"}, "transform": [{"filter": "datum.panel === 'lhc14'"}],
         "mark": {"type": "point", "opacity": 0},
         "encoding": {
           "x": {"field": "alphas", "type": "quantitative", "scale": {"domain": [0.103, 0.129], "nice": false, "zero": false},
             "axis": {"orient": "top", "values": [0.105,0.11,0.115,0.12,0.125], "tickSize": -12, "labels": false, "title": null}},
           "y": {"field": "sigma", "type": "quantitative", "scale": {"domain": [650, 1150], "nice": false, "zero": false},
             "axis": {"orient": "right", "values": [650,700,750,800,850,900,950,1000,1050,1100,1150], "tickSize": -18, "labels": false, "title": null}}
         }},
        {"data": {"name": "lines"}, "transform": [{"filter": "datum.panel === 'lhc14'"}],
         "mark": {"type": "point", "opacity": 0},
         "encoding": {
           "x": {"field": "alphas", "type": "quantitative", "scale": {"domain": [0.103, 0.129], "nice": false, "zero": false},
             "axis": {"orient": "top", "values": [0.104,0.106,0.107,0.108,0.109,0.111,0.112,0.113,0.114,0.116,0.117,0.118,0.119,0.121,0.122,0.123,0.124,0.126,0.127,0.128], "tickSize": -6, "labels": false, "title": null}},
           "y": {"field": "sigma", "type": "quantitative", "scale": {"domain": [650, 1150], "nice": false, "zero": false},
             "axis": {"orient": "right", "values": [660,670,680,690,710,720,730,740,760,770,780,790,810,820,830,840,860,870,880,890,910,920,930,940,960,970,980,990,1010,1020,1030,1040,1060,1070,1080,1090,1110,1120,1130,1140], "tickSize": -9, "labels": false, "title": null}}
         }}
      ]
    }
  ],
  "config": {
    "font": "Liberation Sans",
    "view": {"stroke": "#222222", "strokeWidth": 1.5},
    "axis": {"grid": false, "domain": false, "labelFont": "Liberation Sans", "labelFontSize": 19, "labelColor": "black", "tickColor": "#222222", "tickWidth": 1, "titleFont": "Liberation Sans", "titleFontSize": 20, "titleFontWeight": "normal", "titleColor": "black", "labelOverlap": false, "labelFlush": false},
    "title": {"font": "Liberation Sans", "fontSize": 21, "fontWeight": "normal", "color": "black", "anchor": "middle"},
    "legend": {"symbolType": "stroke", "symbolSize": 2025, "symbolStrokeWidth": 3, "labelFont": "Liberation Sans", "labelFontSize": 14, "labelColor": "black", "labelLimit": 400, "strokeColor": "#444444", "fillColor": "white", "padding": 3, "clipHeight": 20, "rowPadding": 4.5, "symbolOffset": 7, "labelOffset": 10}
  }
}
